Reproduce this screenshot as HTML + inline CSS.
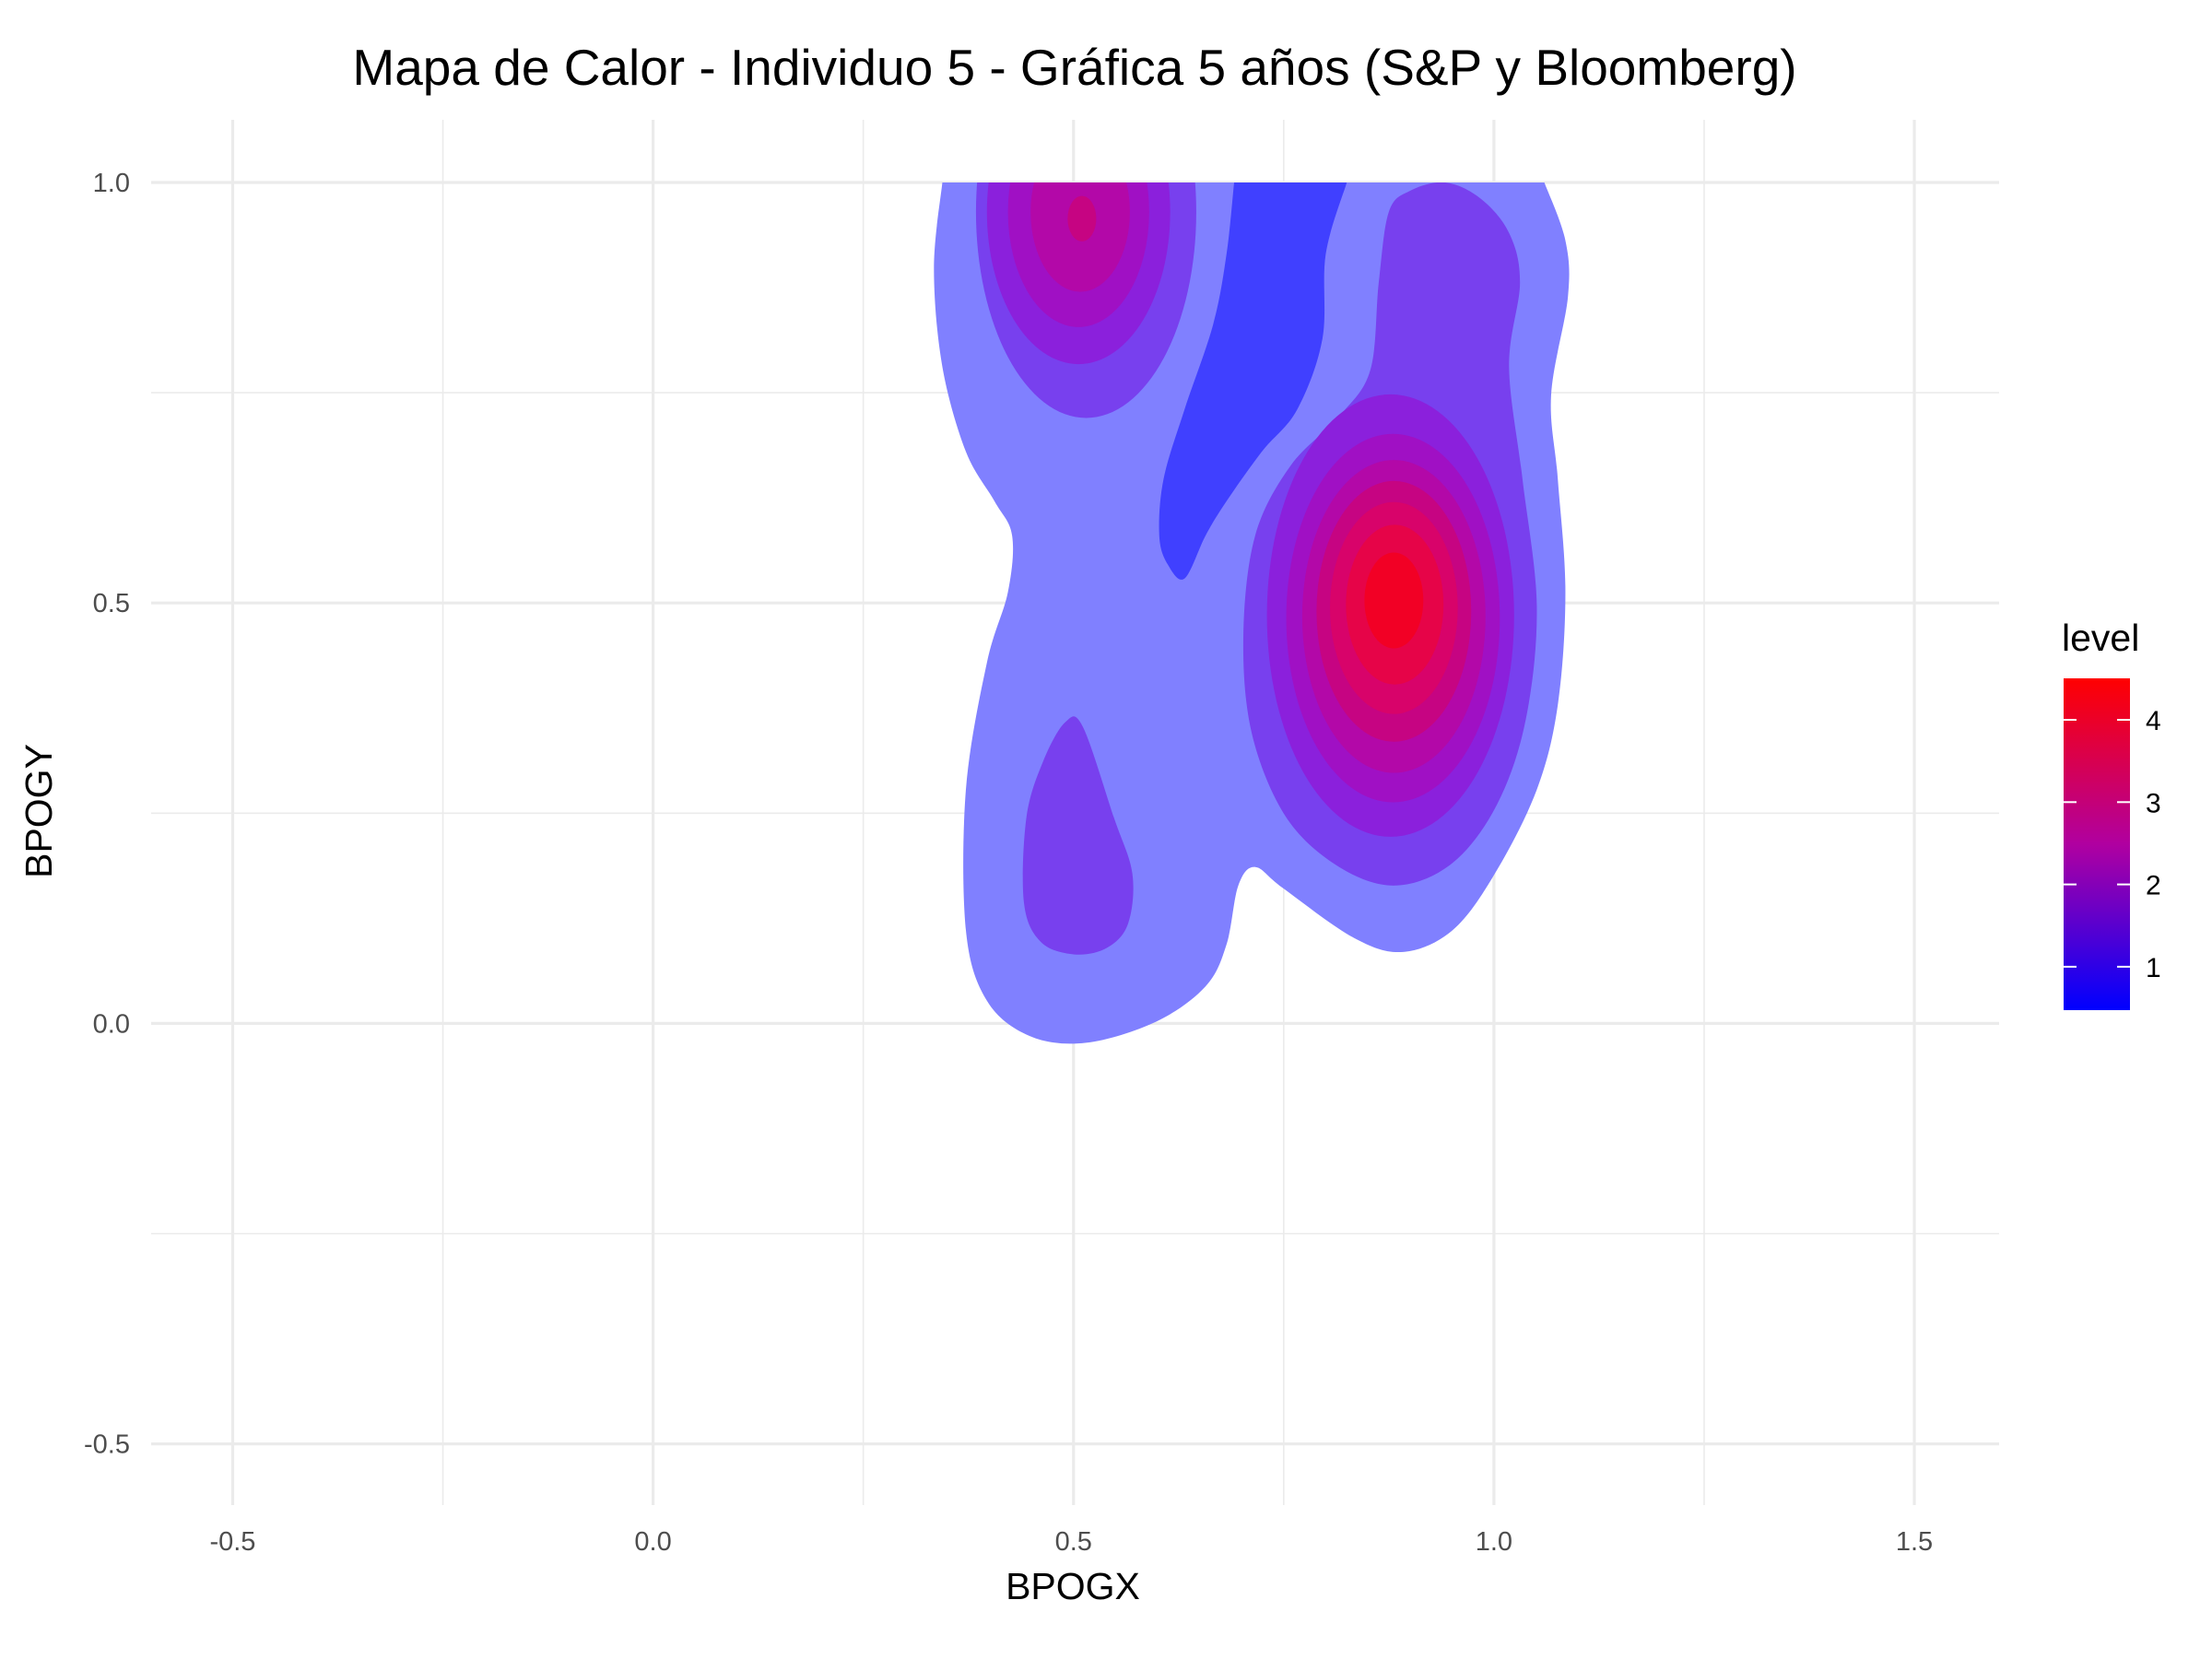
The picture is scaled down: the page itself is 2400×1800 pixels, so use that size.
<!DOCTYPE html>
<html><head><meta charset="utf-8">
<style>
html,body{margin:0;padding:0;background:#fff;}
svg{display:block;font-family:"Liberation Sans",sans-serif;}
</style></head>
<body>
<svg id="chart" width="2400" height="1800" viewBox="0 0 2400 1800" xmlns="http://www.w3.org/2000/svg">
<defs>
<clipPath id="clipTop"><rect id="cliprect" x="0" y="0" width="2400" height="1800"/></clipPath>
<linearGradient id="cbar" x1="0" y1="1" x2="0" y2="0">
<stop offset="0" stop-color="#0000ff"/><stop offset="0.5" stop-color="#b000a0"/><stop offset="1" stop-color="#ff0000"/>
</linearGradient>
</defs>
<rect width="2400" height="1800" fill="#fff"/>
<g id="grid"></g>
<g id="marks" clip-path="url(#clipTop)"></g>
<g id="axes"></g>
<text x="1166" y="92" text-anchor="middle" font-size="55" fill="#000">Mapa de Calor - Individuo 5 - Gráfica 5 años (S&amp;P y Bloomberg)</text>
<text x="1164" y="1735" text-anchor="middle" font-size="41" fill="#000">BPOGX</text>
<text x="56" y="880" text-anchor="middle" font-size="41" fill="#000" transform="rotate(-90 56 880)">BPOGY</text>
<g id="legend">
<text x="2237" y="706" font-size="41" fill="#000">level</text>
<rect x="2239" y="736" width="72" height="360" fill="url(#cbar)"/>
</g>
</svg>
<script>
const xTicks=[-0.5,0,0.5,1,1.5];
const xTickLabels=["-0.5","0.0","0.5","1.0","1.5"];
const yTicks=[-0.5,0,0.5,1];
const yTickLabels=["-0.5","0.0","0.5","1.0"];
const xMinor=[-0.25,0.25,0.75,1.25];
const yMinor=[-0.25,0.25,0.75];
const legendTicks=[1,2,3,4];
// contour polygons (data coords); repeated points mark sharp corners
const outerBand=[[1.06,1.0],[1.06,1.0],[1.085,0.931],[1.088,0.864],[1.068,0.747],[1.076,0.647],[1.085,0.513],[1.076,0.379],[1.051,0.278],[1.001,0.178],[0.951,0.111],[0.892,0.085],[0.833,0.102],[0.749,0.161],[0.716,0.186],[0.696,0.164],[0.682,0.094],[0.657,0.044],[0.598,0.002],[0.515,-0.023],[0.448,-0.015],[0.397,0.027],[0.372,0.111],[0.372,0.278],[0.397,0.429],[0.422,0.513],[0.427,0.580],[0.406,0.621],[0.372,0.680],[0.344,0.781],[0.334,0.898],[0.344,1.0],[0.344,1.0]];
const blueBand=[[0.691,1.0],[0.691,1.0],[0.825,1.0],[0.825,1.0],[0.800,0.915],[0.796,0.814],[0.766,0.730],[0.724,0.680],[0.682,0.621],[0.657,0.580],[0.632,0.529],[0.612,0.546],[0.602,0.580],[0.607,0.647],[0.632,0.730],[0.666,0.831],[0.682,0.915]];
const rightPurple=[[0.875,0.965],[0.900,0.990],[0.942,1.0],[0.984,0.981],[1.018,0.940],[1.031,0.881],[1.018,0.781],[1.034,0.647],[1.051,0.496],[1.038,0.362],[1.004,0.261],[0.951,0.191],[0.884,0.164],[0.816,0.186],[0.753,0.245],[0.712,0.345],[0.702,0.462],[0.716,0.580],[0.758,0.663],[0.816,0.722],[0.853,0.777],[0.863,0.881]];
const bottomPurple=[[0.490,0.358],[0.511,0.353],[0.548,0.245],[0.570,0.178],[0.565,0.119],[0.540,0.090],[0.501,0.082],[0.461,0.097],[0.441,0.144],[0.444,0.245],[0.464,0.312]];
// nested rings [cx, cy, rx, ry] in data units
const rightRings=[[0.877,0.485,0.147,0.263],[0.880,0.482,0.127,0.219],[0.881,0.484,0.109,0.186],[0.881,0.490,0.092,0.155],[0.881,0.494,0.076,0.126],[0.882,0.498,0.058,0.095],[0.881,0.503,0.035,0.057]];
const rightRingLevels=[2,3,4,5,6,7,8];
const leftRings=[[0.515,0.965,0.131,0.245],[0.506,0.965,0.109,0.181],[0.506,0.965,0.084,0.137],[0.508,0.965,0.059,0.095],[0.510,0.957,0.017,0.027]];
const leftRingLevels=[1,2,3,4,5];
const levelColors=["#8080ff","#7840ee","#8b20dc","#a010c4","#b308a8","#c60482","#d8036a","#e60448","#f20025"];

const X0=164,X1=2169,Y0=130,Y1=1633;
const KX=912.3,KY=912.4;
const sx=v=>708.6+v*KX;
const sy=v=>1110.4-v*KY;
const ly=v=>781+(4-v)*89.3;
const NS="http://www.w3.org/2000/svg";
function mk(tag,attrs,parent){const e=document.createElementNS(NS,tag);for(const k in attrs)e.setAttribute(k,attrs[k]);parent.appendChild(e);return e;}
const cr=document.getElementById('cliprect');
cr.setAttribute('x',X0);cr.setAttribute('y',sy(1.0));cr.setAttribute('width',X1-X0);cr.setAttribute('height',Y1-sy(1.0));

const grid=document.getElementById('grid');
xMinor.forEach(v=>{const l=mk('line',{x1:sx(v),x2:sx(v),y1:Y0,y2:Y1,stroke:'#ebebeb','stroke-width':1.6},grid);

});
yMinor.forEach(v=>{const l=mk('line',{x1:X0,x2:X1,y1:sy(v),y2:sy(v),stroke:'#ebebeb','stroke-width':1.6},grid);

});
xTicks.forEach(v=>{const l=mk('line',{x1:sx(v),x2:sx(v),y1:Y0,y2:Y1,stroke:'#ebebeb','stroke-width':3.2},grid);

});
yTicks.forEach(v=>{const l=mk('line',{x1:X0,x2:X1,y1:sy(v),y2:sy(v),stroke:'#ebebeb','stroke-width':3.2},grid);

});

function smoothPath(pts){
  const p=pts.map(d=>[sx(d[0]),sy(d[1])]);const n=p.length;let s=`M${p[0][0]},${p[0][1]}`;
  for(let i=0;i<n;i++){const a=p[(i-1+n)%n],b=p[i],c=p[(i+1)%n],d=p[(i+2)%n];
    const c1=[b[0]+(c[0]-a[0])/6,b[1]+(c[1]-a[1])/6],c2=[c[0]-(d[0]-b[0])/6,c[1]-(d[1]-b[1])/6];
    s+=`C${c1[0]},${c1[1]} ${c2[0]},${c2[1]} ${c[0]},${c[1]}`;}
  return s+'Z';
}
const marks=document.getElementById('marks');
let e=mk('path',{d:smoothPath(outerBand),fill:levelColors[0]},marks);


e=mk('path',{d:smoothPath(blueBand),fill:'#4040ff'},marks);


e=mk('path',{d:smoothPath(rightPurple),fill:levelColors[1]},marks);


e=mk('path',{d:smoothPath(bottomPurple),fill:levelColors[1]},marks);


rightRings.forEach((r,i)=>{const el=mk('ellipse',{cx:sx(r[0]),cy:sy(r[1]),rx:r[2]*KX,ry:r[3]*KY,fill:levelColors[rightRingLevels[i]]},marks);

});
leftRings.forEach((r,i)=>{const el=mk('ellipse',{cx:sx(r[0]),cy:sy(r[1]),rx:r[2]*KX,ry:r[3]*KY,fill:levelColors[leftRingLevels[i]]},marks);

});

const axes=document.getElementById('axes');
xTicks.forEach((v,i)=>{const t=mk('text',{x:sx(v),y:1682,'text-anchor':'middle','font-size':29,fill:'#4d4d4d'},axes);t.textContent=xTickLabels[i];

});
yTicks.forEach((v,i)=>{const t=mk('text',{x:141,y:sy(v)+10,'text-anchor':'end','font-size':29,fill:'#4d4d4d'},axes);t.textContent=yTickLabels[i];

});
const lg=document.getElementById('legend');
legendTicks.forEach(v=>{
 const a=mk('line',{x1:2239,x2:2253,y1:ly(v),y2:ly(v),stroke:'#fff','stroke-width':2},lg);
 
 
 const b=mk('line',{x1:2297,x2:2311,y1:ly(v),y2:ly(v),stroke:'#fff','stroke-width':2},lg);
 
 
 const t=mk('text',{x:2328,y:ly(v)+11,'font-size':30,fill:'#000'},lg);t.textContent=String(v);
 
 
});
</script>
</body></html>
